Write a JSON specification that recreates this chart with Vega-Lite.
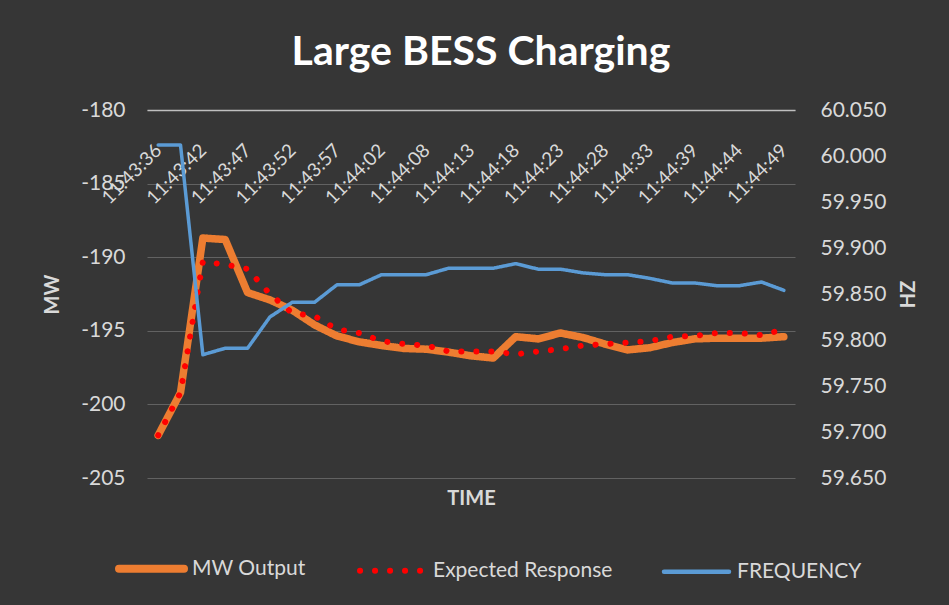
{
  "$schema": "https://vega.github.io/schema/vega-lite/v6.json",
  "width": 648,
  "height": 368,
  "autosize": {"type": "none"},
  "padding": {"left": 147, "top": 110, "right": 154, "bottom": 127},
  "background": "#363636",
  "title": {
    "text": "Large BESS Charging",
    "font": "Lato",
    "fontSize": 41,
    "fontWeight": "bold",
    "color": "#ffffff",
    "anchor": "middle",
    "frame": "group",
    "baseline": "alphabetic",
    "dx": 10,
    "offset": -7
  },
  "config": {
    "view": {"stroke": null},
    "font": "Lato"
  },
  "data": {
    "values": [
      {"time": "11:43:36", "MW Output": -202.1, "Expected Response": -202.1, "FREQUENCY": 60.012},
      {"time": "11:43:39", "MW Output": -199.2, "Expected Response": -199.2, "FREQUENCY": 60.012},
      {"time": "11:43:42", "MW Output": -188.7, "Expected Response": -190.3, "FREQUENCY": 59.784},
      {"time": "11:43:44", "MW Output": -188.8, "Expected Response": -190.5, "FREQUENCY": 59.791},
      {"time": "11:43:47", "MW Output": -192.4, "Expected Response": -190.8, "FREQUENCY": 59.791},
      {"time": "11:43:49", "MW Output": -192.9, "Expected Response": -192.5, "FREQUENCY": 59.825},
      {"time": "11:43:52", "MW Output": -193.6, "Expected Response": -193.8, "FREQUENCY": 59.841},
      {"time": "11:43:55", "MW Output": -194.6, "Expected Response": -194.0, "FREQUENCY": 59.841},
      {"time": "11:43:57", "MW Output": -195.35, "Expected Response": -194.9, "FREQUENCY": 59.86},
      {"time": "11:44:00", "MW Output": -195.75, "Expected Response": -195.15, "FREQUENCY": 59.86},
      {"time": "11:44:02", "MW Output": -196.0, "Expected Response": -195.7, "FREQUENCY": 59.871},
      {"time": "11:44:05", "MW Output": -196.2, "Expected Response": -195.9, "FREQUENCY": 59.871},
      {"time": "11:44:08", "MW Output": -196.25, "Expected Response": -196.0, "FREQUENCY": 59.871},
      {"time": "11:44:10", "MW Output": -196.45, "Expected Response": -196.4, "FREQUENCY": 59.878},
      {"time": "11:44:13", "MW Output": -196.7, "Expected Response": -196.4, "FREQUENCY": 59.878},
      {"time": "11:44:15", "MW Output": -196.85, "Expected Response": -196.4, "FREQUENCY": 59.878},
      {"time": "11:44:18", "MW Output": -195.4, "Expected Response": -196.6, "FREQUENCY": 59.883},
      {"time": "11:44:20", "MW Output": -195.55, "Expected Response": -196.4, "FREQUENCY": 59.877},
      {"time": "11:44:23", "MW Output": -195.15, "Expected Response": -196.25, "FREQUENCY": 59.877},
      {"time": "11:44:26", "MW Output": -195.45, "Expected Response": -196.0, "FREQUENCY": 59.873},
      {"time": "11:44:28", "MW Output": -195.9, "Expected Response": -195.9, "FREQUENCY": 59.871},
      {"time": "11:44:31", "MW Output": -196.3, "Expected Response": -195.8, "FREQUENCY": 59.871},
      {"time": "11:44:33", "MW Output": -196.15, "Expected Response": -195.7, "FREQUENCY": 59.867},
      {"time": "11:44:36", "MW Output": -195.8, "Expected Response": -195.4, "FREQUENCY": 59.862},
      {"time": "11:44:39", "MW Output": -195.55, "Expected Response": -195.35, "FREQUENCY": 59.862},
      {"time": "11:44:41", "MW Output": -195.5, "Expected Response": -195.15, "FREQUENCY": 59.859},
      {"time": "11:44:44", "MW Output": -195.5, "Expected Response": -195.15, "FREQUENCY": 59.859},
      {"time": "11:44:46", "MW Output": -195.5, "Expected Response": -195.3, "FREQUENCY": 59.863},
      {"time": "11:44:49", "MW Output": -195.4, "Expected Response": -194.9, "FREQUENCY": 59.854}
    ]
  },
  "layer": [
    {
      "transform": [{"fold": ["MW Output", "Expected Response"], "as": ["series", "mw"]}],
      "encoding": {
        "x": {
          "field": "time",
          "type": "ordinal",
          "sort": null,
          "scale": {"padding": 0.5},
          "axis": {
            "orient": "top",
            "title": null,
            "values": ["11:43:36", "11:43:42", "11:43:47", "11:43:52", "11:43:57", "11:44:02", "11:44:08", "11:44:13", "11:44:18", "11:44:23", "11:44:28", "11:44:33", "11:44:39", "11:44:44", "11:44:49"],
            "labelAngle": -45,
            "labelAlign": "right",
            "labelBaseline": "middle",
            "labelPadding": -37,
            "ticks": false,
            "domain": true,
            "domainColor": "#bfbfbf",
            "domainWidth": 1.5,
            "grid": false,
            "labelColor": "#d9d9d9",
            "labelFont": "Lato",
            "labelFontSize": 19,
            "labelOverlap": false,
            "labelBound": false,
            "labelFlush": false
          }
        },
        "y": {
          "field": "mw",
          "type": "quantitative",
          "scale": {"domain": [-205, -180], "nice": false, "zero": false},
          "axis": {
            "orient": "left",
            "values": [-205, -200, -195, -190, -185, -180],
            "labelExpr": "'-' + abs(datum.value)",
            "title": "MW",
            "titleFont": "Lato",
            "titleFontSize": 20,
            "titleFontWeight": "bold",
            "titleColor": "#d9d9d9",
            "titlePadding": 18,
            "labelPadding": 22,
            "labelColor": "#d9d9d9",
            "labelFont": "Lato",
            "labelFontSize": 21,
            "ticks": false,
            "domain": false,
            "grid": true,
            "gridColor": "#626262",
            "gridWidth": 1
          }
        },
        "color": {
          "field": "series",
          "type": "nominal",
          "scale": {"domain": ["MW Output", "Expected Response", "FREQUENCY"], "range": ["#ED7D31", "#FF0000", "#5B9BD5"]},
          "legend": {
            "orient": "none",
            "legendX": -6,
            "legendY": 448,
            "direction": "horizontal",
            "title": null,
            "labelFont": "Lato",
            "labelFontSize": 21,
            "labelColor": "#d9d9d9",
            "symbolType": "stroke",
            "symbolSize": 4225,
            "symbolStrokeWidth": 6,
            "columnPadding": 42,
            "labelOffset": 30,
            "labelLimit": 300,
            "encode": {
              "symbols": {
                "update": {
                  "strokeCap": {"value": "round"},
                  "strokeWidth": {"signal": "datum.value === 'MW Output' ? 8 : datum.value === 'FREQUENCY' ? 4.5 : 6"}
                }
              }
            }
          }
        },
        "strokeDash": {
          "field": "series",
          "type": "nominal",
          "scale": {"domain": ["MW Output", "Expected Response", "FREQUENCY"], "range": [[1, 0], [0.1, 14.9], [1, 0]]},
          "legend": null
        }
      },
      "layer": [
        {
          "transform": [{"filter": "datum.series === 'MW Output'"}],
          "mark": {"type": "line", "strokeWidth": 7.5, "strokeJoin": "round", "strokeCap": "round"}
        },
        {
          "transform": [{"filter": "datum.series === 'Expected Response'"}],
          "mark": {"type": "line", "strokeWidth": 6, "strokeJoin": "round", "strokeCap": "round"}
        }
      ]
    },
    {
      "transform": [{"fold": ["FREQUENCY"], "as": ["series", "hz"]}],
      "mark": {"type": "line", "strokeWidth": 3.5, "strokeJoin": "round", "strokeCap": "round"},
      "encoding": {
        "x": {
          "field": "time",
          "type": "ordinal",
          "sort": null,
          "scale": {"padding": 0.5},
          "axis": {
            "orient": "bottom",
            "title": "TIME",
            "labels": false,
            "ticks": false,
            "domain": false,
            "grid": false,
            "titleFont": "Lato",
            "titleFontSize": 20,
            "titleFontWeight": "bold",
            "titleColor": "#d9d9d9",
            "titlePadding": 10
          }
        },
        "y": {
          "field": "hz",
          "type": "quantitative",
          "scale": {"domain": [59.65, 60.05], "nice": false, "zero": false},
          "axis": {
            "orient": "right",
            "values": [59.65, 59.7, 59.75, 59.8, 59.85, 59.9, 59.95, 60.0, 60.05],
            "format": ".3f",
            "title": "HZ",
            "titleAngle": -90,
            "titleFont": "Lato",
            "titleFontSize": 20,
            "titleFontWeight": "bold",
            "titleColor": "#d9d9d9",
            "titlePadding": 33,
            "labelPadding": 25,
            "labelColor": "#d9d9d9",
            "labelFont": "Lato",
            "labelFontSize": 21,
            "ticks": false,
            "domain": false,
            "grid": false
          }
        },
        "color": {"field": "series", "type": "nominal"},
        "strokeDash": {"field": "series", "type": "nominal"}
      }
    }
  ],
  "resolve": {"scale": {"y": "independent"}, "axis": {"x": "independent", "y": "independent"}}
}
